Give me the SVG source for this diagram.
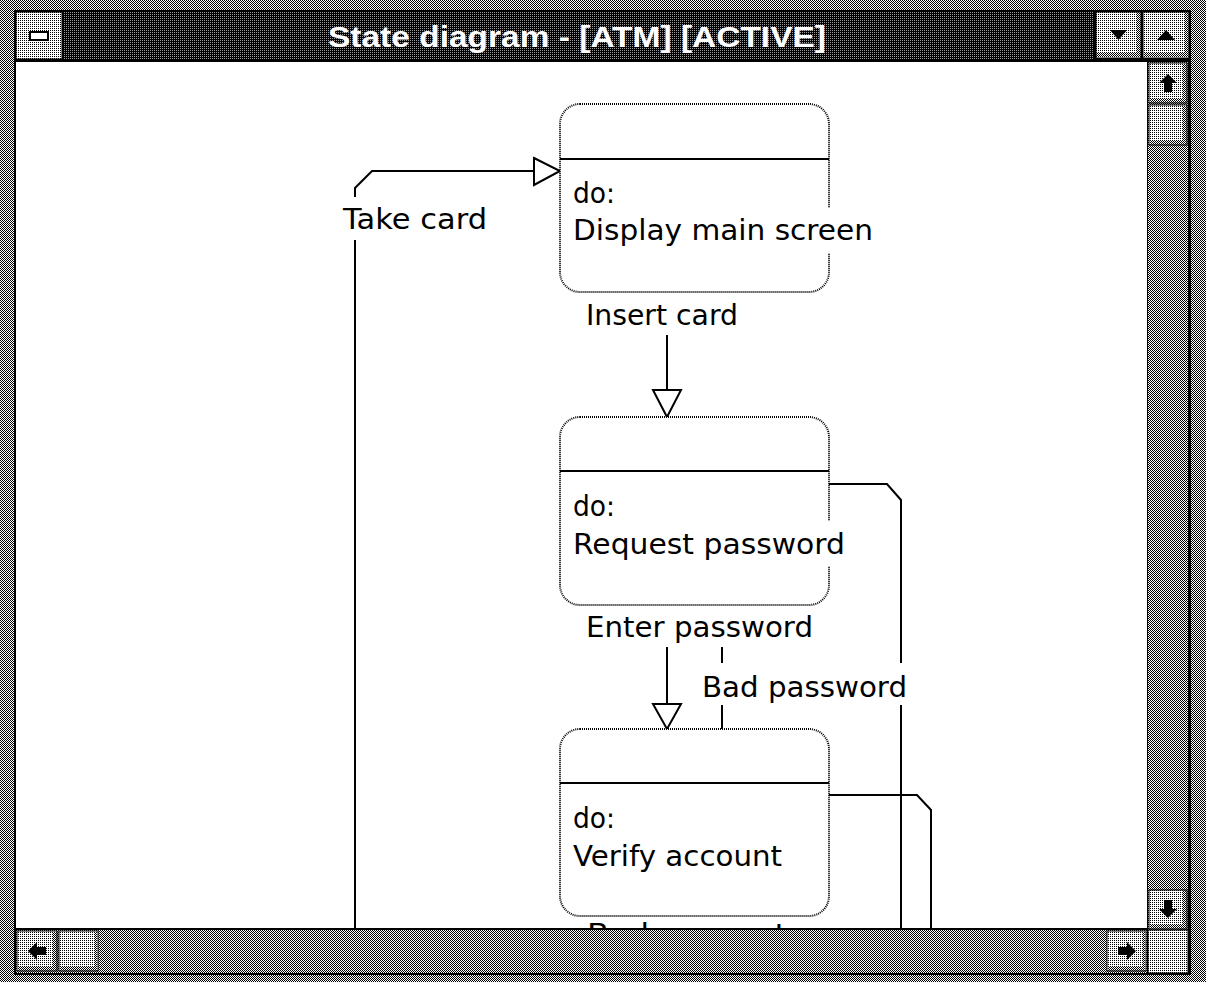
<svg xmlns="http://www.w3.org/2000/svg" width="1206" height="982" viewBox="0 0 1206 982">
  <defs>
    <!-- 1-bit dither fills of the window chrome -->
    <pattern id="checker" width="2" height="2" patternUnits="userSpaceOnUse">
      <rect width="2" height="2" fill="#fff"/>
      <rect width="1" height="1" fill="#000"/>
      <rect x="1" y="1" width="1" height="1" fill="#000"/>
    </pattern>
    <pattern id="light" width="2" height="2" patternUnits="userSpaceOnUse">
      <rect width="2" height="2" fill="#fff"/>
      <rect width="1" height="1" fill="#000"/>
    </pattern>
    <pattern id="dark" width="2" height="2" patternUnits="userSpaceOnUse">
      <rect width="2" height="2" fill="#000"/>
      <rect width="1" height="1" fill="#9a9a9a"/>
    </pattern>
    <clipPath id="client">
      <rect x="16" y="62" width="1131" height="866"/>
    </clipPath>
    <style>
      .btn { fill: url(#light); stroke: #000; stroke-width: 1; }
      .shade { fill: url(#checker); }
      .track { fill: url(#checker); }
      .icon { fill: #000; }
      .state { fill: #fff; stroke: #000; stroke-width: 2; stroke-dasharray: 1 1; }
      .divider { stroke: #000; stroke-width: 2; }
      .wire { fill: none; stroke: #000; stroke-width: 2; }
      .head { fill: #fff; stroke: #000; stroke-width: 2; stroke-linejoin: miter; }
      .lbl { font-family: "DejaVu Sans", "Liberation Sans", sans-serif; font-size: 28px; fill: #000; }
      .title { font-family: "Liberation Sans", Arial, sans-serif; font-weight: bold; font-size: 30px; fill: #fff; }
      .mask { fill: #fff; }
    </style>
  </defs>

  <!-- window frame -->
  <g id="window-frame">
    <rect x="0" y="0" width="1206" height="982" fill="url(#checker)"/>
    <rect x="14" y="10" width="1177" height="965" fill="#000"/>
    <!-- caption bar -->
    <rect x="63" y="12" width="1031" height="47" fill="url(#dark)"/>
    <text class="title" x="577" y="47" text-anchor="middle" textLength="498" lengthAdjust="spacingAndGlyphs">State diagram - [ATM] [ACTIVE]</text>
    <!-- system menu box -->
    <rect x="16" y="12" width="46" height="47" fill="url(#light)" stroke="#000" stroke-width="1"/>
    <rect x="30" y="32" width="18" height="8" fill="#fff" stroke="#000" stroke-width="2"/>
    <!-- minimize / maximize -->
    <rect class="btn" x="1096" y="12" width="45" height="46"/>
    <rect class="shade" x="1136" y="13" width="4" height="44"/>
    <rect class="shade" x="1097" y="53" width="43" height="4"/>
    <polygon class="icon" points="1110,30 1127,30 1118.5,40"/>
    <rect class="btn" x="1143" y="12" width="46" height="46"/>
    <rect class="shade" x="1184" y="13" width="4" height="44"/>
    <rect class="shade" x="1144" y="53" width="44" height="4"/>
    <polygon class="icon" points="1157,40 1175,40 1166,30"/>
    <!-- client area -->
    <rect x="16" y="62" width="1131" height="866" fill="#fff"/>
    <!-- vertical scroll bar -->
    <rect class="track" x="1148" y="62" width="40" height="868"/>
    <rect class="btn" x="1149" y="63" width="38" height="40"/>
    <rect class="shade" x="1183" y="64" width="3" height="38"/>
    <rect class="shade" x="1150" y="99" width="36" height="3"/>
    <polygon class="icon" points="1168,74 1177,83 1172,83 1172,92 1164,92 1164,83 1159,83"/>
    <rect class="btn" x="1149" y="105" width="38" height="40"/>
    <rect class="shade" x="1183" y="106" width="3" height="38"/>
    <rect class="shade" x="1150" y="141" width="36" height="3"/>
    <rect class="btn" x="1149" y="890" width="38" height="39"/>
    <rect class="shade" x="1183" y="891" width="3" height="37"/>
    <rect class="shade" x="1150" y="925" width="36" height="3"/>
    <polygon class="icon" points="1168,918 1177,909 1172,909 1172,900 1164,900 1164,909 1159,909"/>
    <!-- horizontal scroll bar -->
    <rect class="track" x="16" y="930" width="1131" height="43"/>
    <rect class="btn" x="17" y="931" width="40" height="40"/>
    <rect class="shade" x="53" y="932" width="3" height="38"/>
    <rect class="shade" x="18" y="967" width="38" height="3"/>
    <polygon class="icon" points="28,951 37,942 37,947 46,947 46,955 37,955 37,960"/>
    <rect class="btn" x="59" y="931" width="39" height="40"/>
    <rect class="shade" x="94" y="932" width="3" height="38"/>
    <rect class="shade" x="60" y="967" width="37" height="3"/>
    <rect class="btn" x="1107" y="931" width="39" height="40"/>
    <rect class="shade" x="1142" y="932" width="3" height="38"/>
    <rect class="shade" x="1108" y="967" width="37" height="3"/>
    <polygon class="icon" points="1136,951 1127,942 1127,947 1118,947 1118,955 1127,955 1127,960"/>
    <rect class="btn" x="1148" y="930" width="40" height="43"/>
  </g>

  <g clip-path="url(#client)">
    <!-- transitions -->
    <g id="connectors">
      <!-- Take card: back to the main screen -->
      <path class="wire" d="M355,928 V240 M355,197 V188 L372,171 H534"/>
      <polygon class="head" points="534,158 560,171 534,185"/>
      <text class="lbl" x="343" y="229" textLength="144" lengthAdjust="spacingAndGlyphs">Take card</text>

      <!-- Insert card -->
      <path class="wire" d="M667,335 V390"/>
      <polygon class="head" points="653,390 681,390 667,417"/>
      <text class="lbl" x="586" y="325" textLength="152" lengthAdjust="spacingAndGlyphs">Insert card</text>

      <!-- Enter password -->
      <path class="wire" d="M667,647 V704"/>
      <polygon class="head" points="653,704 681,704 667,729"/>
      <text class="lbl" x="586" y="637" textLength="227" lengthAdjust="spacingAndGlyphs">Enter password</text>

      <!-- Bad password -->
      <path class="wire" d="M722,647 V663 M722,705 V729"/>
      <text class="lbl" x="702" y="697" textLength="205" lengthAdjust="spacingAndGlyphs">Bad password</text>

      <!-- exits on the right side -->
      <path class="wire" d="M829,484 H887 L901,500 V663 M901,705 V928"/>
      <path class="wire" d="M829,795 H917 L931,810 V928"/>

      <!-- Bad account (below the last state) -->
      <text class="lbl" x="587" y="944" textLength="200" lengthAdjust="spacingAndGlyphs">Bad account</text>
    </g>

    <!-- states -->
    <g id="state-display-main-screen">
      <rect class="state" x="560" y="104" width="269" height="188" rx="20" ry="20"/>
      <line class="divider" x1="560" y1="159" x2="829" y2="159"/>
      <rect class="mask" x="571" y="208" width="304" height="45"/>
      <text class="lbl" x="573" y="203" textLength="42" lengthAdjust="spacingAndGlyphs">do:</text>
      <text class="lbl" x="573" y="240" textLength="300" lengthAdjust="spacingAndGlyphs">Display main screen</text>
    </g>

    <g id="state-request-password">
      <rect class="state" x="560" y="417" width="269" height="188" rx="20" ry="20"/>
      <line class="divider" x1="560" y1="471" x2="829" y2="471"/>
      <rect class="mask" x="571" y="521" width="276" height="45"/>
      <text class="lbl" x="573" y="516" textLength="42" lengthAdjust="spacingAndGlyphs">do:</text>
      <text class="lbl" x="573" y="554" textLength="272" lengthAdjust="spacingAndGlyphs">Request password</text>
    </g>

    <g id="state-verify-account">
      <rect class="state" x="560" y="729" width="269" height="187" rx="20" ry="20"/>
      <line class="divider" x1="560" y1="783" x2="829" y2="783"/>
      <text class="lbl" x="573" y="828" textLength="42" lengthAdjust="spacingAndGlyphs">do:</text>
      <text class="lbl" x="573" y="866" textLength="209" lengthAdjust="spacingAndGlyphs">Verify account</text>
    </g>
  </g>
</svg>
